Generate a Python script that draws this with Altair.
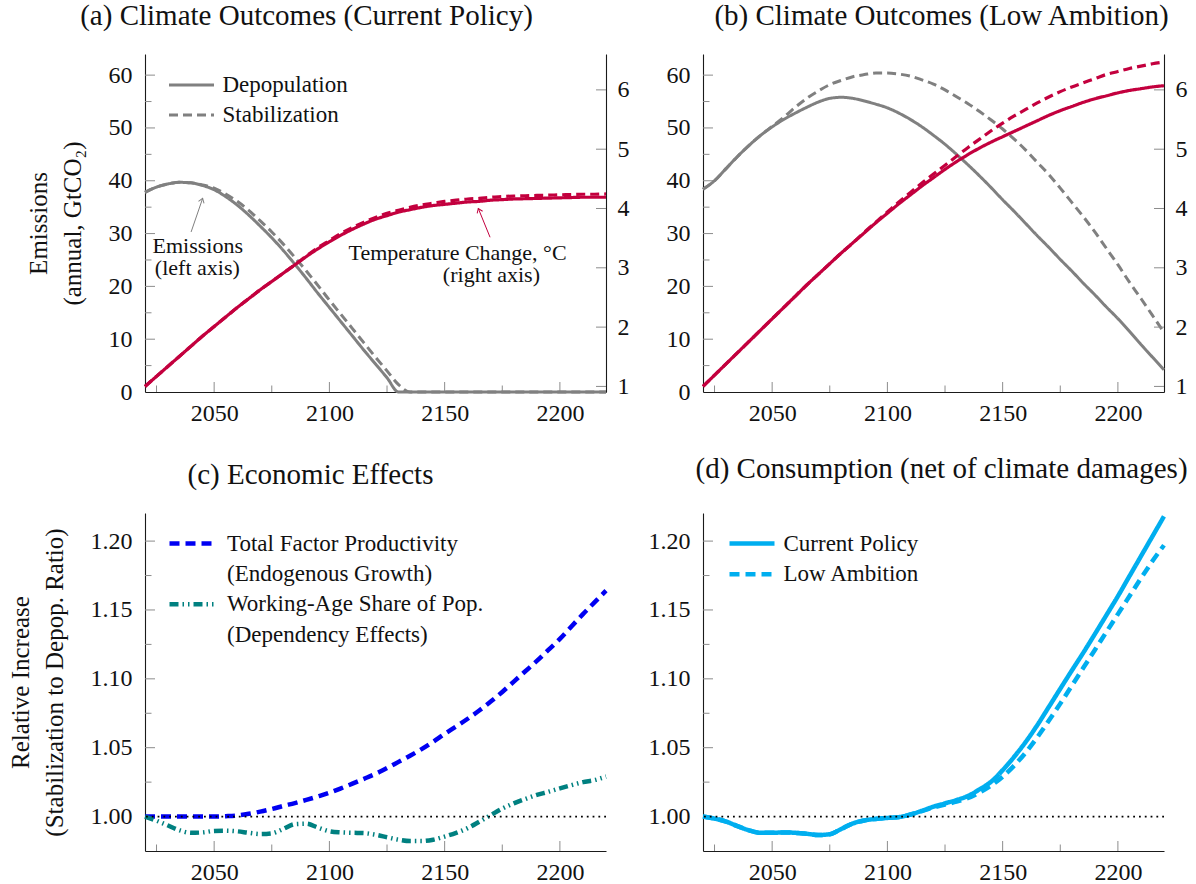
import math
import altair as alt
import pandas as pd

FONT = "Liberation Serif"
INK = "#111111"
GRAY = "#808080"
RED = "#C3003E"
BLUE = "#0000F2"
TEAL = "#008080"
CYAN = "#00AEEF"
TICK = "#8c8c8c"

W, H = 461, 338
MAJOR_LEN, MINOR_LEN = 10, 6.5

# ---------------------------------------------------------------- data
years = list(range(2020, 2221, 5))

# (a) Current policy: annual emissions (GtCO2) and warming (deg C)
a_emis_depop = [37.8, 38.8, 39.4, 39.7, 39.6, 39.1, 38.3, 37.0, 35.4, 33.5,
                31.4, 29.2, 26.8, 24.2, 21.5, 18.7, 16.0, 13.3, 10.6, 7.9,
                5.3, 2.7, 0.0, 0.0, 0.0, 0.0, 0.0, 0.0, 0.0, 0.0,
                0.0, 0.0, 0.0, 0.0, 0.0, 0.0, 0.0, 0.0, 0.0, 0.0, 0.0]
a_emis_stab = [37.8, 38.8, 39.4, 39.7, 39.6, 39.2, 38.6, 37.5, 36.1, 34.4,
               32.4, 30.3, 28.0, 25.5, 22.9, 20.2, 17.4, 14.7, 12.0, 9.3,
               6.6, 4.0, 1.4, 0.0, 0.0, 0.0, 0.0, 0.0, 0.0, 0.0,
               0.0, 0.0, 0.0, 0.0, 0.0, 0.0, 0.0, 0.0, 0.0, 0.0, 0.0]
a_temp_depop = [1.00, 1.17, 1.34, 1.51, 1.68, 1.85, 2.01, 2.17, 2.33, 2.48,
                2.63, 2.77, 2.91, 3.05, 3.19, 3.32, 3.44, 3.55, 3.65, 3.74,
                3.82, 3.88, 3.94, 3.98, 4.02, 4.05, 4.07, 4.09, 4.11, 4.12,
                4.14, 4.15, 4.16, 4.165, 4.17, 4.175, 4.18, 4.185, 4.19, 4.19, 4.19]
a_temp_stab = [1.00, 1.17, 1.34, 1.51, 1.68, 1.85, 2.01, 2.17, 2.33, 2.48,
               2.63, 2.77, 2.91, 3.05, 3.20, 3.34, 3.46, 3.58, 3.68, 3.77,
               3.85, 3.92, 3.97, 4.02, 4.06, 4.09, 4.12, 4.14, 4.16, 4.17,
               4.19, 4.20, 4.21, 4.215, 4.22, 4.225, 4.23, 4.235, 4.24, 4.24, 4.245]

# (b) Low ambition
b_emis_depop = [38.4, 40.0, 42.3, 44.6, 46.7, 48.6, 50.2, 51.6, 52.8, 53.9,
                54.9, 55.6, 55.8, 55.6, 55.1, 54.5, 53.8, 52.8, 51.6, 50.2,
                48.6, 46.9, 45.0, 43.0, 40.9, 38.7, 36.4, 34.2, 31.9, 29.6,
                27.4, 25.1, 22.9, 20.6, 18.4, 16.1, 13.9, 11.5, 9.0, 6.6, 4.2]
b_emis_stab = [38.4, 40.0, 42.3, 44.6, 46.7, 48.6, 50.3, 52.0, 53.9, 55.6,
               57.0, 58.2, 59.0, 59.7, 60.1, 60.4, 60.4, 60.2, 59.8, 59.1,
               58.3, 57.2, 55.9, 54.6, 53.1, 51.5, 49.8, 47.9, 45.8, 43.5,
               41.2, 38.6, 35.9, 33.2, 30.3, 27.2, 24.1, 20.8, 17.7, 14.5, 11.3]
b_temp_depop = [1.00, 1.19, 1.38, 1.57, 1.76, 1.95, 2.14, 2.33, 2.52, 2.71,
                2.89, 3.07, 3.25, 3.42, 3.59, 3.76, 3.92, 4.08, 4.23, 4.38,
                4.52, 4.66, 4.79, 4.91, 5.02, 5.12, 5.21, 5.30, 5.39, 5.48,
                5.57, 5.65, 5.72, 5.79, 5.85, 5.90, 5.95, 5.99, 6.02, 6.05, 6.07]
b_temp_stab = [1.00, 1.19, 1.38, 1.57, 1.76, 1.95, 2.14, 2.33, 2.52, 2.71,
               2.89, 3.07, 3.25, 3.42, 3.60, 3.77, 3.94, 4.11, 4.27, 4.43,
               4.58, 4.73, 4.88, 5.03, 5.17, 5.31, 5.44, 5.56, 5.67, 5.78,
               5.88, 5.97, 6.05, 6.12, 6.19, 6.26, 6.31, 6.36, 6.40, 6.44, 6.47]

# (c) Stabilization / depopulation ratios
c_tfp = [1.0, 1.0, 1.0, 1.0, 1.0, 1.0, 1.0, 1.0003, 1.0008, 1.002,
         1.0036, 1.0055, 1.0077, 1.0098, 1.0121, 1.0146, 1.0173, 1.0205, 1.0239, 1.0274,
         1.031, 1.0352, 1.0397, 1.0442, 1.049, 1.0543, 1.06, 1.0654, 1.071, 1.077,
         1.0835, 1.0905, 1.098, 1.1055, 1.113, 1.121, 1.129, 1.138, 1.147, 1.1555, 1.164]
c_work = [1.000, 0.9970, 0.9935, 0.9900, 0.9882, 0.9885, 0.9896, 0.9898, 0.9893, 0.9882,
          0.9873, 0.9878, 0.9910, 0.9945, 0.9948, 0.9920, 0.9893, 0.9885, 0.9882, 0.9880,
          0.9868, 0.9850, 0.9832, 0.9822, 0.9822, 0.9832, 0.9855, 0.9882, 0.9916, 0.9962,
          1.0010, 1.0058, 1.0096, 1.0128, 1.0157, 1.0180, 1.0205, 1.0228, 1.0250, 1.0265, 1.0290]

# (d) Consumption ratio, net of climate damages
d_current = [1.000, 0.9985, 0.9964, 0.9930, 0.9900, 0.9882, 0.9882, 0.9885, 0.9882, 0.9875,
             0.9866, 0.9872, 0.9910, 0.9950, 0.9972, 0.9983, 0.9990, 0.9996, 1.0015, 1.0042,
             1.0072, 1.0096, 1.0120, 1.0150, 1.0198, 1.0253, 1.0337, 1.0434, 1.0542, 1.0663,
             1.0795, 1.0928, 1.1060, 1.1190, 1.1325, 1.1462, 1.1600, 1.1745, 1.1890, 1.2035, 1.2180]
d_low = [1.000, 0.9985, 0.9964, 0.9930, 0.9900, 0.9882, 0.9882, 0.9885, 0.9882, 0.9875,
         0.9866, 0.9872, 0.9910, 0.9950, 0.9972, 0.9983, 0.9990, 0.9996, 1.0015, 1.0040,
         1.0066, 1.0088, 1.0108, 1.0135, 1.0175, 1.0225, 1.0290, 1.0370, 1.0465, 1.0575,
         1.0695, 1.0820, 1.0950, 1.1080, 1.1210, 1.1340, 1.1470, 1.1600, 1.1730, 1.1855, 1.1970]

scenarios = ["Depopulation", "Stabilization"]
c_legend_rows = ["Total Factor Productivity", "(Endogenous Growth)",
                 "Working-Age Share of Pop.", "(Dependency Effects)"]
d_policies = ["Current Policy", "Low Ambition"]

# tick positions
x_major = [2050, 2100, 2150, 2200]
x_minor = [2025, 2075, 2125, 2175]
emis_labels = [0, 10, 20, 30, 40, 50, 60]
emis_major = [10, 20, 30, 40, 50, 60]
emis_minor = [5, 15, 25, 35, 45, 55]
temp_major = [1, 2, 3, 4, 5, 6]
ratio_major = [1.00, 1.05, 1.10, 1.15, 1.20]
ratio_minor = [1.025, 1.075, 1.125, 1.175]
ratio_ref = [1.0]

# annotation anchors (year, emissions level) for panel (a)
note_years = [2042.9, 2042.7, 2155.6, 2170.3]
note_levels = [26.3, 22.1, 24.9, 20.8]
note_texts = ["Emissions", "(left axis)", "Temperature Change, °C", "(right axis)"]
arrow_tail_years = [2040.0, 2169.7]
arrow_tail_levels = [30.3, 29.3]
arrow_head_years = [2045.0, 2164.6]
arrow_head_levels = [36.65, 34.75]
arrow_colors = [GRAY, RED]

# ---------------------------------------------------------------- scales / axes
X_DOM = [2020, 2220]
E_DOM = [0, 64]
T_DOM = [0.906, 6.605]
R_DOM = [0.975, 1.2204]
XS = alt.Scale(domain=X_DOM, nice=False, zero=False)
ES = alt.Scale(domain=E_DOM, nice=False, zero=False)
TS = alt.Scale(domain=T_DOM, nice=False, zero=False)
RS = alt.Scale(domain=R_DOM, nice=False, zero=False)

X_AXIS = alt.Axis(orient="bottom", values=x_major, format="d", title=None, labelPadding=9.5)
T_AXIS = alt.Axis(orient="right", values=temp_major, format="d", labelPadding=11, title=None)
SOLID, DASHED = [1, 0], [9, 5]
BOLD_DASH = [10, 6]
DASHDOT = [9, 4, 1.5, 4, 1.5, 4]


def left_axis(values, fmt, title=None, title_x=-95):
    kw = dict(orient="left", values=values, format=fmt, labelPadding=13, title=None)
    if title:
        kw.update(title=title, titleX=title_x, titleY=H / 2, titleAngle=270,
                  titleAlign="center", titleBaseline="alphabetic", titleLineHeight=34)
    return alt.Axis(**kw)


def ptitle(text, dx):
    return alt.TitleParams(text=text, font=FONT, fontSize=29, fontWeight="normal",
                           color=INK, anchor="middle", frame="group", dx=dx,
                           offset=0, baseline="alphabetic")


def make_legend(x, y, row_pad, label_offset, stroke_w, stroke_color=None):
    kw = dict(orient="none", legendX=x, legendY=y, direction="vertical", title=None,
              symbolType="stroke", symbolSize=2025, symbolStrokeWidth=stroke_w,
              labelFont=FONT, labelFontSize=23, labelColor=INK, labelOffset=label_offset,
              rowPadding=row_pad, clipHeight=26, padding=0, labelLimit=400)
    if stroke_color:
        kw["symbolStrokeColor"] = stroke_color
    return alt.Legend(**kw)


def x_ticks():
    out = []
    for vals, ln in ((x_major, MAJOR_LEN), (x_minor, MINOR_LEN)):
        out.append(alt.Chart(pd.DataFrame({"v": vals})).mark_rule(color=TICK, strokeWidth=1).encode(
            x=alt.X("v:Q", scale=XS, axis=X_AXIS), y=alt.value(H), y2=alt.value(H - ln)))
    return out


def y_ticks(vals, scale, axis, ln, right=False):
    x0 = W if right else 0
    x1 = W - ln if right else ln
    return alt.Chart(pd.DataFrame({"v": vals})).mark_rule(color=TICK, strokeWidth=1).encode(
        y=alt.Y("v:Q", scale=scale, axis=axis), x=alt.value(x0), x2=alt.value(x1))


def note_layers(y_axis):
    notes = pd.DataFrame({"year": note_years, "emis": note_levels, "label": note_texts})
    text = alt.Chart(notes).mark_text(font=FONT, fontSize=22, color=INK, align="center",
                                      baseline="alphabetic").encode(
        x=alt.X("year:Q", scale=XS, axis=X_AXIS), y=alt.Y("emis:Q", scale=ES, axis=y_axis),
        text="label:N")
    px_per_year = W / (X_DOM[1] - X_DOM[0])
    px_per_unit = H / (E_DOM[1] - E_DOM[0])
    angles = []
    for x0, y0, x1, y1 in zip(arrow_tail_years, arrow_tail_levels, arrow_head_years, arrow_head_levels):
        ang = math.degrees(math.atan2((x1 - x0) * px_per_year, (y1 - y0) * px_per_unit))
        angles.append(ang % 360)
    arrows = pd.DataFrame({"x0": arrow_tail_years, "y0": arrow_tail_levels,
                           "x1": arrow_head_years, "y1": arrow_head_levels,
                           "color": arrow_colors, "angle": angles})
    shafts = alt.Chart(arrows).mark_rule(strokeWidth=1).encode(
        x=alt.X("x0:Q", scale=XS, axis=X_AXIS), x2="x1:Q",
        y=alt.Y("y0:Q", scale=ES, axis=y_axis), y2="y1:Q",
        color=alt.Color("color:N", scale=None))
    heads = alt.Chart(arrows).mark_point(shape="M-0.7,1L0,0L0.7,1", filled=False,
                                         strokeWidth=1, size=70, opacity=1).encode(
        x=alt.X("x1:Q", scale=XS, axis=X_AXIS), y=alt.Y("y1:Q", scale=ES, axis=y_axis),
        color=alt.Color("color:N", scale=None), angle=alt.Angle("angle:Q", scale=None))
    return [shafts, heads, text]


def climate_panel(emis_d, emis_s, temp_d, temp_s, title, dx, legend=None,
                  left_title=None, notes=False):
    df = pd.DataFrame({
        "year": years + years,
        "scenario": [scenarios[0]] * len(years) + [scenarios[1]] * len(years),
        "emis": emis_d + emis_s,
        "temp": temp_d + temp_s,
    })
    e_axis = left_axis(emis_labels, "d", left_title, -99)
    dash_scale = alt.Scale(domain=scenarios, range=[SOLID, DASHED])
    gray = alt.Chart(df).mark_line(color=GRAY, strokeWidth=3, interpolate="monotone",
                                   strokeJoin="round").encode(
        x=alt.X("year:Q", scale=XS, axis=X_AXIS),
        y=alt.Y("emis:Q", scale=ES, axis=e_axis),
        strokeDash=alt.StrokeDash("scenario:N", scale=dash_scale, legend=legend))
    red = alt.Chart(df).mark_line(color=RED, strokeWidth=3.2, interpolate="monotone",
                                  strokeJoin="round").encode(
        x=alt.X("year:Q", scale=XS, axis=X_AXIS),
        y=alt.Y("temp:Q", scale=TS, axis=T_AXIS),
        strokeDash=alt.StrokeDash("scenario:N", scale=dash_scale, legend=None))
    emis_layers = x_ticks() + [y_ticks(emis_major, ES, e_axis, MAJOR_LEN),
                               y_ticks(emis_minor, ES, e_axis, MINOR_LEN), gray]
    if notes:
        emis_layers += note_layers(e_axis)
    temp_layers = [y_ticks(temp_major, TS, T_AXIS, MAJOR_LEN, right=True), red]
    return (alt.layer(alt.layer(*emis_layers), alt.layer(*temp_layers))
            .resolve_scale(y="independent", strokeDash="independent")
            .resolve_legend(strokeDash="independent")
            .properties(width=W, height=H, title=ptitle(title, dx)))


def ratio_frame(r_axis):
    ref = alt.Chart(pd.DataFrame({"v": ratio_ref})).mark_rule(
        color="#000000", strokeWidth=1.8, strokeDash=[1.8, 4]).encode(
        y=alt.Y("v:Q", scale=RS, axis=r_axis))
    ticks = x_ticks() + [y_ticks(ratio_major, RS, r_axis, MAJOR_LEN),
                         y_ticks(ratio_minor, RS, r_axis, MINOR_LEN)]
    return ticks, ref


# ---------------------------------------------------------------- panels
legend_a = make_legend(22.5, 18, 4, 7, 3, GRAY)
panel_a = climate_panel(a_emis_depop, a_emis_stab, a_temp_depop, a_temp_stab,
                        "(a) Climate Outcomes (Current Policy)", -69, legend=legend_a,
                        left_title=["Emissions", "(annual, GtCO₂)"], notes=True)
panel_b = climate_panel(b_emis_depop, b_emis_stab, b_temp_depop, b_temp_stab,
                        "(b) Climate Outcomes (Low Ambition)", 8)

c_df = pd.DataFrame({
    "year": years + years,
    "series": [c_legend_rows[0]] * len(years) + [c_legend_rows[2]] * len(years),
    "ratio": c_tfp + c_work,
})
c_axis = left_axis(ratio_major, ".2f", ["Relative Increase", "(Stabilization to Depop. Ratio)"], -117)
legend_c = make_legend(22, 17.6, 4.3, 10, 4.5)
c_lines = alt.Chart(c_df).mark_line(strokeWidth=4.5, interpolate="monotone").encode(
    x=alt.X("year:Q", scale=XS, axis=X_AXIS),
    y=alt.Y("ratio:Q", scale=RS, axis=c_axis),
    color=alt.Color("series:N", scale=alt.Scale(domain=c_legend_rows,
                                                range=[BLUE, "transparent", TEAL, "transparent"]),
                    legend=legend_c),
    strokeDash=alt.StrokeDash("series:N", scale=alt.Scale(domain=c_legend_rows,
                                                          range=[BOLD_DASH, SOLID, DASHDOT, SOLID]),
                              legend=legend_c))
c_ticks, c_ref = ratio_frame(c_axis)
panel_c = alt.layer(*c_ticks, c_lines, c_ref).properties(
    width=W, height=H, title=ptitle("(c) Economic Effects", -65))

d_df = pd.DataFrame({
    "year": years + years,
    "policy": [d_policies[0]] * len(years) + [d_policies[1]] * len(years),
    "ratio": d_current + d_low,
})
d_axis = left_axis(ratio_major, ".2f")
legend_d = make_legend(24, 17.6, 4.7, 6.5, 4.5, CYAN)
d_lines = alt.Chart(d_df).mark_line(color=CYAN, strokeWidth=4.5, interpolate="monotone").encode(
    x=alt.X("year:Q", scale=XS, axis=X_AXIS),
    y=alt.Y("ratio:Q", scale=RS, axis=d_axis),
    strokeDash=alt.StrokeDash("policy:N", scale=alt.Scale(domain=d_policies,
                                                          range=[SOLID, BOLD_DASH]),
                              legend=legend_d))
d_ticks, d_ref = ratio_frame(d_axis)
panel_d = alt.layer(*d_ticks, d_lines, d_ref).properties(
    width=W, height=H, title=ptitle("(d) Consumption (net of climate damages)", 8))

chart = (alt.concat(panel_a, panel_b, panel_c, panel_d, columns=2,
                    spacing={"row": 121, "column": 97}, bounds="flush")
         .resolve_scale(color="independent", strokeDash="independent")
         .resolve_legend(color="independent", strokeDash="independent")
         .properties(padding={"left": 8, "top": 2, "right": 5, "bottom": 0})
         .configure(background="white")
         .configure_view(stroke=None)
         .configure_axis(labelFont=FONT, labelFontSize=24, labelColor=INK,
                         titleFont=FONT, titleFontSize=25, titleFontWeight="normal",
                         titleColor=INK, domainColor="#1a1a1a", domainWidth=1.1,
                         ticks=False, tickSize=0, grid=False, labelFlush=False))

chart.save("out.html", embed_options={"renderer": "svg", "actions": False})
